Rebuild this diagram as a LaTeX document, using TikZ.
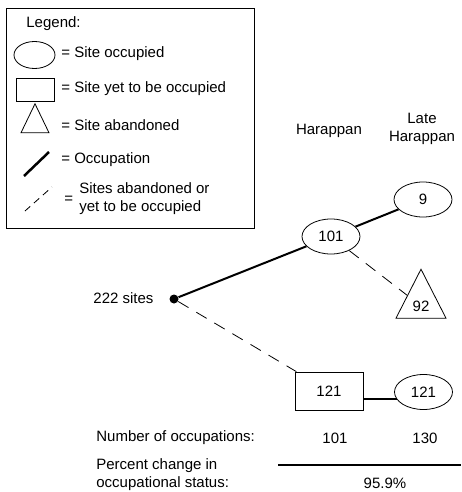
\documentclass[tikz,border=0pt]{standalone}
\usepackage{fontspec}
\setmainfont{Liberation Sans}
\usetikzlibrary{shapes.geometric, positioning}

\begin{document}
\begin{tikzpicture}[x=1pt, y=-1pt, font=\fontsize{15}{18}\selectfont, line width=0.8pt,
    occ/.style = {draw, ellipse, inner sep=0pt, minimum width=58pt, minimum height=35pt},
    yet/.style = {draw, rectangle, inner sep=0pt, minimum width=68pt, minimum height=38pt},
    aband/.style = {draw, isosceles triangle, isosceles triangle stretches, shape border rotate=90,
                    inner sep=0pt, minimum width=50pt, minimum height=49pt},
    occupation/.style = {line width=2pt},
    notocc/.style = {line width=0.8pt, dash pattern=on 12pt off 9pt},
    txt/.style = {inner sep=0pt, anchor=west, align=left}]
      \useasboundingbox (0,0) rectangle (461,492);

      % legend
      \node[draw, inner sep=0pt, minimum width=248pt, minimum height=220pt] (legend) at (130,118) {};
      \node[txt] (legtitle) at (26,24) {Legend:};
      \node[occ, minimum width=41pt, minimum height=27pt] (legocc) at (34.5,55) {};
      \node[txt] (legocctxt) at (61,54) {= Site occupied};
      \node[yet, minimum width=38pt, minimum height=23pt] (legyet) at (35,90) {};
      \node[txt] (legyettxt) at (61,89) {= Site yet to be occupied};
      \node[aband, minimum width=28pt, minimum height=29pt] (legaband) at (35,124) {};
      \node[txt] (legabandtxt) at (61,125) {= Site abandoned};
      \coordinate (legocc1) at (24,176);
      \coordinate (legocc2) at (49,152);
      \draw[line width=2.5pt] (legocc1) -- (legocc2);
      \node[txt] (legocctxt2) at (61,160) {= Occupation};
      \coordinate (legnot1) at (25,211);
      \coordinate (legnot2) at (52,187);
      \draw[line width=0.8pt, dash pattern=on 7pt off 5pt] (legnot1) -- (legnot2);
      \node[txt] (legeq) at (64,200) {=};
      \node[txt] (legnottxt) at (79,199) {Sites abandoned or\\yet to be occupied};

      % periods
      \node (harappan) at (329,131) {Harappan};
      \node[align=center] (late) at (422,128.5) {Late\\Harappan};

      % sites
      \node[circle, fill, inner sep=0pt, minimum size=9pt] (root) at (174,299) {};
      \node (rootlbl) at (123.5,298) {222 sites};
      \node[occ] (e101) at (331,236.5) {101};
      \node[occ] (e9)   at (423,199.5) {9};
      \node[aband] (t92) at (421,306) {92};
      \node[yet] (r121) at (329,391) {121};
      \node[occ] (e121) at (423.5,392) {121};

      \path[occupation]
      (root) edge (e101)
      (e101) edge (e9)
      (r121.east |- e121.195) edge (e121.195);

      \path[notocc]
      (e101) edge (t92)
      (root) edge (r121);

      % counts
      \node[txt] (numlbl) at (96,438) {Number of occupations:};
      \node (num1) at (335,438) {101};
      \node (num2) at (425,438) {130};
      \node[txt] (pctlbl) at (96,475) {Percent change in\\occupational status:};
      \coordinate (rule1) at (278,465);
      \coordinate (rule2) at (461,465);
      \draw[line width=2pt] (rule1) -- (rule2);
      \node (pct) at (385,483) {95.9\%};
\end{tikzpicture}
\end{document}
